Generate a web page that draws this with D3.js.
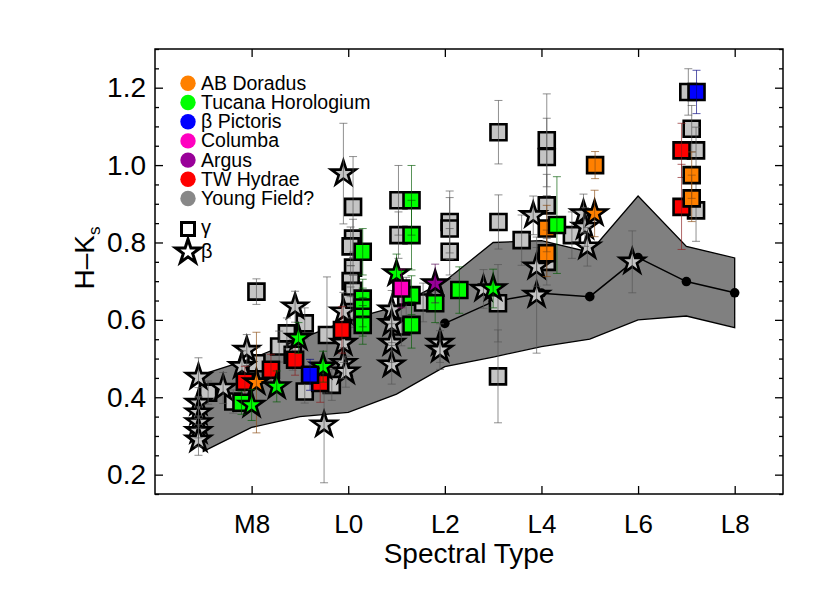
<!DOCTYPE html>
<html>
<head>
<meta charset="utf-8">
<script src="https://cdn.jsdelivr.net/npm/d3@7"></script>
<style>
  body { margin: 0; background: #fff; }
  svg { font-family: "Liberation Sans", Arial, Helvetica, sans-serif; }
</style>
</head>
<body>
<svg id="chart" width="830" height="593"></svg>
<script>
// spectral type: M7 = 7, M8 = 8, L0 = 10, L2 = 12 ...
// each point: [spt, H-Ks, error, shape]  shape 'g' = gamma (square), 'b' = beta (star)
var youngField = [
  [7.1, 0.412, 0.03, 'g'], [7.62, 0.389, 0.03, 'g'], [8.1, 0.673, 0.033, 'g'],
  [8.1, 0.488, 0.04, 'g'], [8.57, 0.531, 0.04, 'g'], [8.73, 0.565, 0.04, 'g'],
  [8.85, 0.51, 0.04, 'g'], [9.1, 0.591, 0.04, 'g'], [9.1, 0.415, 0.03, 'g'],
  [9.66, 0.432, 0.04, 'g'], [9.56, 0.561, 0.15, 'g'],
  [10.1, 0.892, 0.13, 'g'], [10.1, 0.81, 0.05, 'g'], [10.05, 0.79, 0.05, 'g'],
  [10.1, 0.735, 0.04, 'g'], [10.05, 0.70, 0.04, 'g'], [10.1, 0.675, 0.04, 'g'],
  [10.05, 0.645, 0.04, 'g'], [10.1, 0.62, 0.04, 'g'],
  [11.04, 0.909, 0.09, 'g'], [11.04, 0.819, 0.06, 'g'], [11.1, 0.583, 0.05, 'g'],
  [11.2, 0.66, 0.05, 'g'], [11.55, 0.645, 0.05, 'g'],
  [12.1, 0.853, 0.08, 'g'], [12.1, 0.836, 0.08, 'g'], [12.1, 0.776, 0.06, 'g'],
  [13.11, 1.085, 0.082, 'g'], [13.11, 0.853, 0.07, 'g'], [13.1, 0.643, 0.1, 'g'],
  [13.1, 0.454, 0.12, 'g'], [13.59, 0.806, 0.065, 'g'],
  [14.11, 1.064, 0.12, 'g'], [14.11, 1.021, 0.1, 'g'], [14.11, 0.896, 0.08, 'g'],
  [14.11, 0.75, 0.06, 'g'], [14.63, 0.819, 0.06, 'g'],
  [17.04, 1.189, 0.06, 'g'], [17.11, 1.094, 0.06, 'g'], [17.2, 1.038, 0.06, 'g'],
  [17.2, 0.883, 0.08, 'g'],
  [6.9, 0.452, 0.05, 'b'], [6.9, 0.385, 0.04, 'b'], [6.9, 0.36, 0.04, 'b'],
  [6.9, 0.335, 0.04, 'b'], [6.9, 0.312, 0.04, 'b'], [6.9, 0.29, 0.04, 'b'],
  [7.41, 0.424, 0.04, 'b'], [7.9, 0.522, 0.04, 'b'], [7.8, 0.48, 0.04, 'b'],
  [8.9, 0.634, 0.04, 'b'], [9.5, 0.329, 0.15, 'b'],
  [9.9, 0.978, 0.13, 'b'], [9.9, 0.621, 0.05, 'b'], [9.9, 0.54, 0.05, 'b'],
  [9.9, 0.488, 0.04, 'b'], [9.95, 0.466, 0.04, 'b'],
  [10.9, 0.626, 0.05, 'b'], [10.9, 0.591, 0.05, 'b'], [10.9, 0.54, 0.05, 'b'],
  [10.9, 0.484, 0.05, 'b'], [11.9, 0.54, 0.05, 'b'], [11.9, 0.522, 0.05, 'b'],
  [12.8, 0.68, 0.05, 'b'], [13.9, 0.664, 0.15, 'b'], [13.9, 0.737, 0.05, 'b'],
  [13.83, 0.87, 0.05, 'b'], [14.87, 0.875, 0.05, 'b'], [14.9, 0.84, 0.05, 'b'],
  [14.95, 0.789, 0.05, 'b'], [15.88, 0.75, 0.08, 'b']
];
var twHydrae = [
  [7.86, 0.44, 0.04, 'g'], [8.4, 0.471, 0.04, 'g'], [8.9, 0.497, 0.04, 'g'],
  [9.42, 0.437, 0.05, 'g'], [9.87, 0.574, 0.06, 'g'], [16.9, 1.038, 0.07, 'g'],
  [16.9, 0.892, 0.11, 'g']
];
var abDoradus = [
  [8.1, 0.438, 0.13, 'b'], [14.11, 0.836, 0.06, 'g'], [14.11, 0.772, 0.06, 'g'],
  [15.11, 1.0, 0.035, 'g'], [15.1, 0.875, 0.06, 'b'], [17.11, 0.974, 0.06, 'g'],
  [17.11, 0.914, 0.06, 'g']
];
var tucHor = [
  [7.79, 0.386, 0.03, 'g'], [10.3, 0.776, 0.06, 'g'], [10.3, 0.655, 0.05, 'g'],
  [10.3, 0.632, 0.05, 'g'], [10.3, 0.608, 0.05, 'g'], [10.3, 0.587, 0.05, 'g'],
  [11.31, 0.909, 0.09, 'g'], [11.31, 0.819, 0.09, 'g'], [11.31, 0.664, 0.05, 'g'],
  [11.31, 0.587, 0.06, 'g'], [11.8, 0.643, 0.05, 'g'], [12.3, 0.677, 0.06, 'g'],
  [14.32, 0.845, 0.125, 'g'],
  [8.0, 0.38, 0.04, 'b'], [8.52, 0.428, 0.04, 'b'], [8.97, 0.553, 0.04, 'b'],
  [9.48, 0.479, 0.04, 'b'], [11.0, 0.72, 0.05, 'b'], [13.0, 0.681, 0.05, 'b']
];
var columba = [[11.1, 0.681, 0.05, 'g']];
var argus = [[11.8, 0.694, 0.05, 'b']];
var betaPic = [[9.21, 0.458, 0.04, 'g'], [17.21, 1.189, 0.056, 'g']];

// field dwarf band and mean
var bandSpt = [7, 8, 9, 10, 11, 12, 13, 14, 15, 16, 17, 18];
var bandUpper = [0.46, 0.50, 0.55, 0.60, 0.635, 0.70, 0.80, 0.805, 0.775, 0.92, 0.79, 0.76];
var bandLower = [0.26, 0.322, 0.35, 0.361, 0.408, 0.479, 0.504, 0.531, 0.55, 0.60, 0.61, 0.58];
var meanSpt = [12, 13, 14, 15, 16, 17, 18];
var meanHK = [0.591, 0.647, 0.669, 0.66, 0.761, 0.699, 0.67];

var xTickValues = [8, 10, 12, 14, 16, 18];
var xTickLabels = ['M8', 'L0', 'L2', 'L4', 'L6', 'L8'];
var yTickValues = [0.2, 0.4, 0.6, 0.8, 1.0, 1.2];

var legendNames = ['AB Doradus', 'Tucana Horologium', '\u03b2 Pictoris', 'Columba', 'Argus', 'TW Hydrae', 'Young Field?'];
var legendColors = ['#ff8000', '#00ff00', '#0000ff', '#ff00c0', '#990099', '#ff0000', '#888888'];

var svg = d3.select('#chart');
var x = d3.scaleLinear().domain([6, 19]).range([155, 783]);
var y = d3.scaleLinear().domain([0.15, 1.3]).range([494, 49]);

// band
var band = d3.area()
  .x(function(d, i) { return x(bandSpt[i]); })
  .y0(function(d, i) { return y(bandLower[i]); })
  .y1(function(d, i) { return y(bandUpper[i]); });
svg.append('path')
  .datum(bandSpt)
  .attr('d', band)
  .attr('fill', '#808080')
  .attr('stroke', '#000')
  .attr('stroke-width', 1.3);

// mean line
var meanLine = d3.line()
  .x(function(d, i) { return x(meanSpt[i]); })
  .y(function(d, i) { return y(meanHK[i]); });
svg.append('path')
  .datum(meanSpt)
  .attr('d', meanLine)
  .attr('fill', 'none')
  .attr('stroke', '#000')
  .attr('stroke-width', 1.5);
svg.selectAll('circle.mean')
  .data(meanSpt)
  .enter().append('circle')
  .attr('class', 'mean')
  .attr('cx', function(d) { return x(d); })
  .attr('cy', function(d, i) { return y(meanHK[i]); })
  .attr('r', 4.8)
  .attr('fill', '#000');

var groups = [
  { data: youngField, fill: '#c4c4c4', bar: '#555555' },
  { data: twHydrae, fill: '#ff0000', bar: '#8b1a1a' },
  { data: abDoradus, fill: '#ff8000', bar: '#8b4a10' },
  { data: tucHor, fill: '#00ff00', bar: '#005a00' },
  { data: columba, fill: '#ff00c0', bar: '#800060' },
  { data: argus, fill: '#990099', bar: '#500050' },
  { data: betaPic, fill: '#0000ff', bar: '#000080' }
];

var square = d3.symbol().type(d3.symbolSquare).size(256);
var star = d3.symbol().type(d3.symbolStar).size(185);

groups.forEach(function(grp) {
  var g = svg.append('g');
  g.selectAll('path.pt')
    .data(grp.data)
    .enter().append('path')
    .attr('class', 'pt')
    .attr('d', function(d) { return d[3] === 'g' ? square() : star(); })
    .attr('transform', function(d) { return 'translate(' + x(d[0]) + ',' + y(d[1]) + ')'; })
    .attr('fill', grp.fill)
    .attr('stroke', '#000')
    .attr('stroke-width', 2.6)
    .attr('stroke-linejoin', 'miter');
  // error bars on top, thin and translucent
  var eb = g.selectAll('g.err')
    .data(grp.data)
    .enter().append('g')
    .attr('class', 'err')
    .attr('stroke', grp.bar)
    .attr('stroke-opacity', 0.65)
    .attr('stroke-width', 1);
  eb.append('line')
    .attr('x1', function(d) { return x(d[0]); })
    .attr('x2', function(d) { return x(d[0]); })
    .attr('y1', function(d) { return y(d[1] - d[2]); })
    .attr('y2', function(d) { return y(d[1] + d[2]); });
  [-1, 1].forEach(function(s) {
    eb.append('line')
      .attr('x1', function(d) { return x(d[0]) - 4; })
      .attr('x2', function(d) { return x(d[0]) + 4; })
      .attr('y1', function(d) { return y(d[1] + s * d[2]); })
      .attr('y2', function(d) { return y(d[1] + s * d[2]); });
  });
});

// axes, ticks pointing inward
function styleAxis(size) {
  return function(g) {
    g.select('.domain').remove();
    g.selectAll('line').attr('stroke', '#000').attr('stroke-width', 1.3);
    g.selectAll('text').attr('fill', '#000').attr('font-size', size)
      .attr('font-family', '"Liberation Sans", Arial, sans-serif');
  };
}
svg.append('g')
  .attr('transform', 'translate(0,494)')
  .call(d3.axisBottom(x).tickValues(xTickValues)
    .tickFormat(function(d, i) { return xTickLabels[i]; })
    .tickSize(-8).tickPadding(21))
  .call(styleAxis(26));
svg.append('g')
  .attr('transform', 'translate(0,49)')
  .call(d3.axisTop(x).tickValues(xTickValues).tickFormat('').tickSize(-8))
  .call(styleAxis(26));
svg.append('g')
  .attr('transform', 'translate(155,0)')
  .call(d3.axisLeft(y).tickValues(yTickValues).tickFormat(d3.format('.1f'))
    .tickSize(-8).tickPadding(9))
  .call(styleAxis(28));
svg.append('g')
  .attr('transform', 'translate(783,0)')
  .call(d3.axisRight(y).tickValues(yTickValues).tickFormat('').tickSize(-8))
  .call(styleAxis(26));
var minorY = d3.range(0.15, 1.301, 0.05).filter(function(v) {
  return Math.abs(v * 5 - Math.round(v * 5)) > 0.01;
});
svg.append('g')
  .attr('transform', 'translate(155,0)')
  .call(d3.axisLeft(y).tickValues(minorY).tickFormat('').tickSize(-4))
  .call(styleAxis(26));
svg.append('g')
  .attr('transform', 'translate(783,0)')
  .call(d3.axisRight(y).tickValues(minorY).tickFormat('').tickSize(-4))
  .call(styleAxis(26));

svg.append('rect')
  .attr('x', 155).attr('y', 49)
  .attr('width', 628).attr('height', 445)
  .attr('fill', 'none')
  .attr('stroke', '#000')
  .attr('stroke-width', 1.5);

// axis titles
svg.append('text')
  .attr('x', 469).attr('y', 563)
  .attr('text-anchor', 'middle')
  .attr('font-size', 28)
  .text('Spectral Type');
var yl = svg.append('text')
  .attr('transform', 'translate(94,258) rotate(-90)')
  .attr('text-anchor', 'middle')
  .attr('font-size', 28);
yl.append('tspan').text('H\u2013K');
yl.append('tspan').attr('font-size', 17).attr('dy', 6).text('s');

// legend
var leg = svg.append('g');
legendNames.forEach(function(name, i) {
  var cy = 83.3 + i * 19.2;
  leg.append('circle')
    .attr('cx', 188).attr('cy', cy).attr('r', 7.7)
    .attr('fill', legendColors[i]);
  leg.append('text')
    .attr('x', 201).attr('y', cy + 6.5)
    .attr('font-size', 19.5)
    .text(name);
});
leg.append('rect')
  .attr('x', 181.5).attr('y', 222.5).attr('width', 13).attr('height', 13)
  .attr('fill', '#fff').attr('stroke', '#000').attr('stroke-width', 3);
leg.append('text').attr('x', 201).attr('y', 234).attr('font-size', 20).text('\u03b3');
leg.append('path')
  .attr('d', star())
  .attr('transform', 'translate(188,252)')
  .attr('fill', '#fff').attr('stroke', '#000').attr('stroke-width', 3);
leg.append('text').attr('x', 201).attr('y', 258).attr('font-size', 20).text('\u03b2');
</script>
</body>
</html>
